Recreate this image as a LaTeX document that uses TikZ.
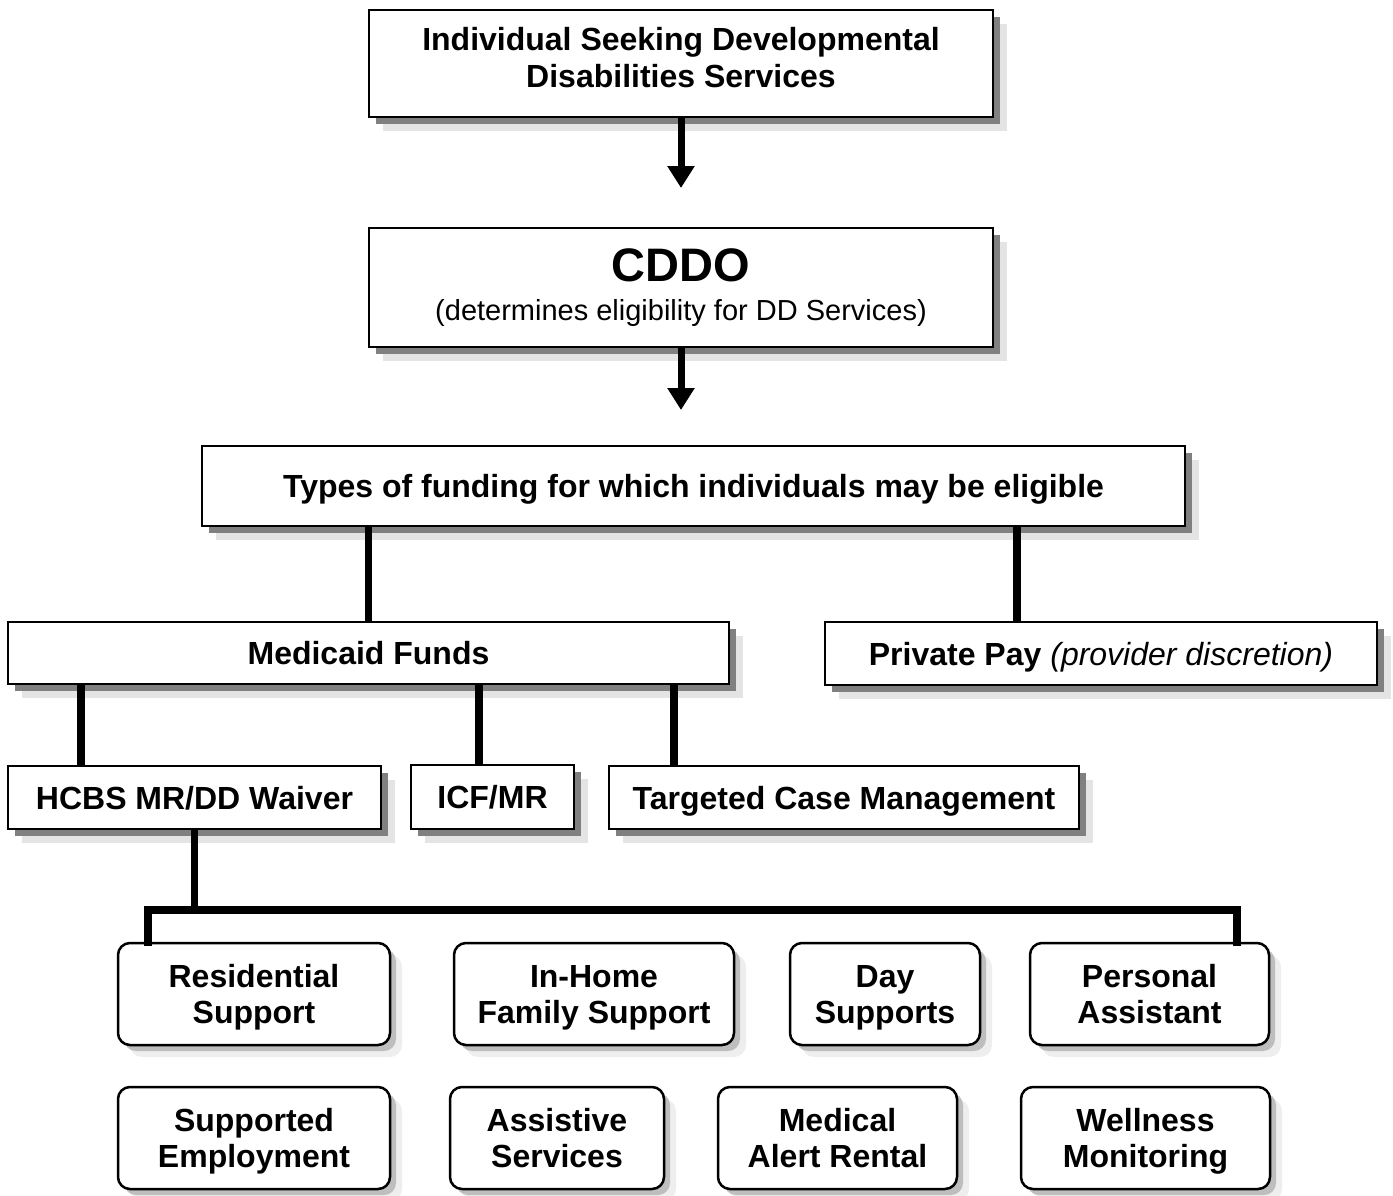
\documentclass[tikz,border=0pt]{standalone}
\usepackage{fontspec}
\setmainfont{Liberation Sans}
\usetikzlibrary{arrows.meta,shadows}
\definecolor{shdark}{HTML}{808080}
\definecolor{shlight}{HTML}{E4E4E4}
\definecolor{rshdark}{HTML}{BEBEBE}
\definecolor{rshlight}{HTML}{EEEEEE}
\begin{document}
\begin{tikzpicture}[x=1pt,y=-1pt,
  sqbox/.style={rectangle, draw=black, line width=2pt, fill=white, inner sep=0pt, align=center,
    font=\bfseries\fontsize{32}{36}\selectfont,
    general shadow={draw=none, shadow xshift=14pt, shadow yshift=-14pt, fill=shlight},
    general shadow={draw=none, shadow xshift=7pt, shadow yshift=-7pt, fill=shdark}},
  rbox/.style={rectangle, rounded corners=12pt, draw=black, line width=2.5pt, fill=white, inner sep=0pt, align=center,
    font=\bfseries\fontsize{32}{36}\selectfont,
    general shadow={draw=none, shadow xshift=12pt, shadow yshift=-12pt, fill=rshlight},
    general shadow={draw=none, shadow xshift=6pt, shadow yshift=-6pt, fill=rshdark}},
  oneline/.style={text height=23pt, text depth=0pt},
  twoline/.style={text height=59pt, text depth=0pt},
  conn/.style={draw=black, line width=7.5pt, line join=miter, line cap=butt},
  arr/.style={draw=black, line width=7pt, -{Triangle[width=26pt,length=22pt]}}]

\useasboundingbox (0,0) rectangle (1393,1195);

% top chain
\node[sqbox, font=\bfseries\fontsize{32}{37}\selectfont, text height=60pt, text depth=13pt,
  minimum width=624pt, minimum height=107pt] (indiv) at (681,63.5)
  {Individual Seeking Developmental\\Disabilities Services};
\node[sqbox, minimum width=624pt, minimum height=119pt] (cddo) at (681,287.5)
  {{\fontsize{47}{52}\selectfont CDDO}\\[3pt]{\mdseries\fontsize{29}{33}\selectfont (determines eligibility for DD Services)}};
\node[sqbox, oneline, minimum width=983pt, minimum height=80pt] (types) at (693.5,486)
  {Types of funding for which individuals may be eligible};

\coordinate (a1) at (681,188);
\coordinate (a2) at (681,410);
\draw[arr] (indiv.south) -- (a1);
\draw[arr] (cddo.south) -- (a2);

% funding
\node[sqbox, oneline, minimum width=721pt, minimum height=62pt] (medicaid) at (368.5,653) {Medicaid Funds};
\node[sqbox, oneline, minimum width=552pt, minimum height=63pt] (private) at (1101,653.5)
  {Private Pay {\mdseries\itshape (provider discretion)}};

\coordinate (privx) at (1017,0);
\draw[conn] (types.south -| medicaid.north) -- (medicaid.north);
\draw[conn] (types.south -| privx) -- (private.north -| privx);

% medicaid children
\node[sqbox, oneline, minimum width=373pt, minimum height=63pt] (hcbs) at (194.5,797.5) {HCBS MR/DD Waiver};
\node[sqbox, oneline, minimum width=163pt, minimum height=64pt] (icf) at (492.5,797) {ICF/MR};
\node[sqbox, oneline, minimum width=470pt, minimum height=63pt] (tcm) at (844,797.5) {Targeted Case Management};

\coordinate (hx) at (81,0);
\coordinate (ix) at (479,0);
\coordinate (tx) at (674,0);
\draw[conn] (medicaid.south -| hx) -- (hcbs.north -| hx);
\draw[conn] (medicaid.south -| ix) -- (icf.north -| ix);
\draw[conn] (medicaid.south -| tx) -- (tcm.north -| tx);

% services
\node[rbox, twoline, minimum width=272pt, minimum height=102pt] (res) at (254,994) {Residential\\Support};
\node[rbox, twoline, minimum width=280pt, minimum height=102pt] (inhome) at (594,994) {In-Home\\Family Support};
\node[rbox, twoline, minimum width=190pt, minimum height=102pt] (day) at (885,994) {Day\\Supports};
\node[rbox, twoline, minimum width=239pt, minimum height=102pt] (pers) at (1149.5,994) {Personal\\Assistant};

\node[rbox, twoline, minimum width=272pt, minimum height=102pt] (semp) at (254,1138) {Supported\\Employment};
\node[rbox, twoline, minimum width=214pt, minimum height=102pt] (assist) at (557,1138) {Assistive\\Services};
\node[rbox, twoline, minimum width=239pt, minimum height=102pt] (medal) at (837.5,1138) {Medical\\Alert Rental};
\node[rbox, twoline, minimum width=249pt, minimum height=102pt] (well) at (1145.5,1138) {Wellness\\Monitoring};

\coordinate (busL) at (148,910);
\coordinate (busR) at (1237,910);
\draw[conn] (hcbs.south) -- (hcbs.south |- busL);
\draw[conn, line cap=rect] (res.north -| busL) -- (busL) -- (busR) -- (pers.north -| busR);

\end{tikzpicture}
\end{document}
